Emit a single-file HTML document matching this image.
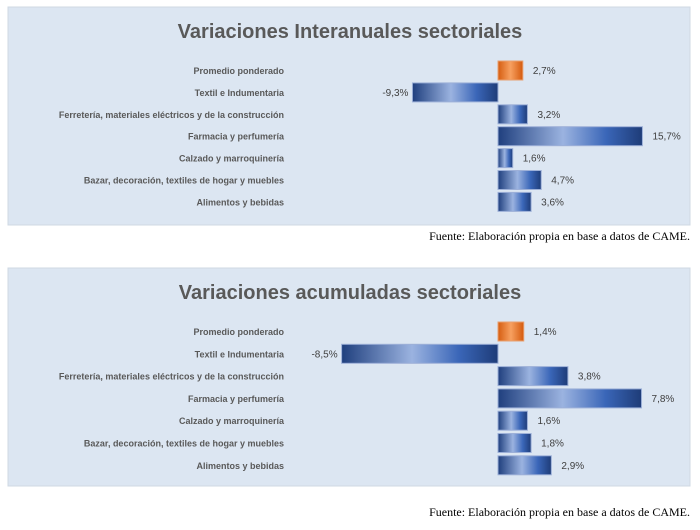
<!DOCTYPE html>
<html><head><meta charset="utf-8"><style>
body{margin:0;width:700px;height:530px;background:#fff;overflow:hidden;font-family:"Liberation Sans",sans-serif}
svg{position:absolute;left:0;top:0}
</style></head><body>
<svg width="700" height="530">
<defs>
<linearGradient id="bg" x1="0" x2="1" y1="0" y2="0">
<stop offset="0" stop-color="#1f3f7e"/><stop offset="0.45" stop-color="#9bb3e0"/><stop offset="0.75" stop-color="#3a66b8"/><stop offset="1" stop-color="#1e3c78"/></linearGradient>
<linearGradient id="og" x1="0" x2="1"><stop offset="0" stop-color="#d55d10"/><stop offset="0.5" stop-color="#f7a060"/><stop offset="1" stop-color="#d45a0e"/></linearGradient>
</defs>
<g id="root"></g>
</svg>
<script>
const categories=["Promedio ponderado","Textil e Indumentaria","Ferretería, materiales eléctricos y  de la construcción","Farmacia y perfumería","Calzado y marroquinería","Bazar, decoración, textiles de hogar y muebles","Alimentos y bebidas"];
const interanual=[2.7,-9.3,3.2,15.7,1.6,4.7,3.6];
const interanualLabels=["2,7%","-9,3%","3,2%","15,7%","1,6%","4,7%","3,6%"];
const acumulada=[1.4,-8.5,3.8,7.8,1.6,1.8,2.9];
const acumuladaLabels=["1,4%","-8,5%","3,8%","7,8%","1,6%","1,8%","2,9%"];
const NS="http://www.w3.org/2000/svg";
const root=document.getElementById('root');
function mk(t,a,p){const e=document.createElementNS(NS,t);for(const k in a)e.setAttribute(k,a[k]);(p||root).appendChild(e);return e;}
function chart(top,title,vals,labels,scale,prefix,rowGap,noteY){
  const g=mk('g',{});
  
  
  const bgr=mk('rect',{x:8,y:top,width:682,height:218,fill:'#dce6f2',stroke:'#cfd8e3'},g);
  
  
  const t=mk('text',{x:350,y:top+31,'text-anchor':'middle','font-size':20,'font-weight':'bold',fill:'#595959'},g);
  t.textContent=title;
  
  
  const zero=498, x=v=>zero+v*scale;
  const rowY=i=>top+63+i*rowGap;
  categories.forEach((c,i)=>{
    const y=rowY(i);
    const l=mk('text',{x:284,y:y+4,'text-anchor':'end','font-size':9,'font-weight':'bold',fill:'#595959'},g);
    l.textContent=c;
    
    
    const v=vals[i];
    const x0=Math.min(x(0),x(v)),w=Math.abs(x(v)-x(0));
    const r=mk('rect',{x:x0,y:y-9,width:w,height:19,fill:i===0?'url(#og)':'url(#bg)',stroke:i===0?'#e8a070':'#9db0d8','stroke-width':1},g);
    
    
    const vl=mk('text',{x:v<0?x(v)-4:x(v)+10,y:y+4,'text-anchor':v<0?'end':'start','font-size':10,fill:'#404040'},g);
    vl.textContent=labels[i];
    
    
  });
  const f=mk('text',{x:690,y:noteY,'text-anchor':'end','font-size':12,'font-family':'Liberation Serif, serif',fill:'#000'});
  f.textContent='Fuente: Elaboración propia en base a datos de CAME.';
  
  
}
chart(7,'Variaciones Interanuales sectoriales',interanual,interanualLabels,9.2,'interanual',21.9,240);
chart(268,'Variaciones acumuladas sectoriales',acumulada,acumuladaLabels,18.4,'acumulada',22.3,516);
</script>
</body></html>
